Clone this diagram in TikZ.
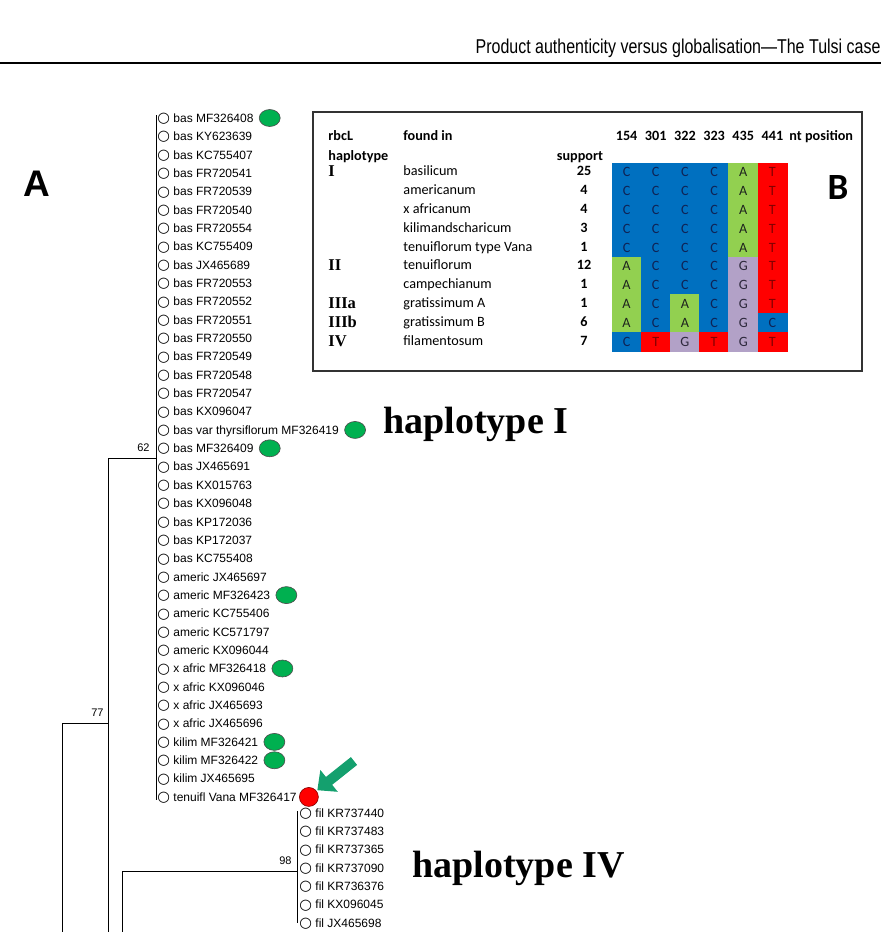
\documentclass[tikz,border=0pt]{standalone}
\usepackage{fontspec}
\setmainfont{Liberation Sans}
\newfontfamily\tabfont{Carlito}
\newfontfamily\romfont{Liberation Serif}
\newfontfamily\symfont{DejaVu Sans}
\newfontfamily\headfont[FakeStretch=0.8]{Liberation Sans}
\usetikzlibrary{positioning,shapes.geometric,arrows.meta}
\definecolor{nucC}{RGB}{0,112,192}
\definecolor{nucA}{RGB}{146,208,80}
\definecolor{nucT}{RGB}{255,0,0}
\definecolor{nucG}{RGB}{178,161,199}
\definecolor{txtC}{RGB}{15,35,85}
\definecolor{txtA}{RGB}{30,35,30}
\definecolor{txtT}{RGB}{130,0,0}
\definecolor{txtG}{RGB}{45,40,60}
\definecolor{dotgreen}{RGB}{0,176,80}
\definecolor{arrowgreen}{RGB}{20,160,110}
\newcommand{\mk}{\raisebox{-0.3pt}{\symfont\fontsize{14.5}{14.5}\selectfont ○}}

\begin{document}
\begin{tikzpicture}[x=1pt,y=-1pt,line width=0.9pt,
  leaf node/.style={anchor=west,inner sep=0pt,text height=8.6pt,text depth=0pt,font=\fontsize{12}{12}\selectfont},
  boot node/.style={inner sep=0pt,font=\fontsize{11}{11}\selectfont},
  green dot/.style={ellipse,draw=black!70,line width=0.6pt,fill=dotgreen,minimum width=21pt,minimum height=17pt,inner sep=0pt},
  red dot/.style={circle,draw=black!50!red,line width=0.6pt,fill=red,minimum size=19pt,inner sep=0pt},
  hap node/.style={anchor=base west,inner sep=0pt,font=\romfont\bfseries\fontsize{38}{38}\selectfont},
  tab node/.style={inner sep=0pt,text height=10pt,text depth=3pt,font=\tabfont\fontsize{14.2}{14.2}\selectfont},
  rom node/.style={anchor=west,inner sep=0pt,text height=10pt,text depth=3pt,font=\romfont\bfseries\fontsize{16.5}{16.5}\selectfont},
  cell node/.style={inner sep=0pt,text height=9.1pt,text depth=0pt,font=\tabfont\fontsize{14.2}{14.2}\selectfont},
  panel node/.style={inner sep=0pt,font=\bfseries\fontsize{37}{37}\selectfont},
  arrow line/.style={arrowgreen,line width=10pt,-{Triangle[length=15pt,width=27pt]},shorten >=1pt}]

  \useasboundingbox (0,0) rectangle (884,932);

  \node[anchor=base east,inner sep=0pt,font=\headfont\fontsize{20}{20}\selectfont] (head) at (881,53)
    {Product authenticity versus globalisation—The Tulsi case};
  \draw[line width=1.4pt] (0,63) -- (881,63);

  \node[panel node] (A) at (37,184) {A};
  \node[panel node,font=\tabfont\bfseries\fontsize{37}{37}\selectfont] (B) at (838,187) {B};

  \foreach \lab [count=\i] in {bas MF326408,bas KY623639,bas KC755407,bas FR720541,
      bas FR720539,bas FR720540,bas FR720554,bas KC755409,bas JX465689,bas FR720553,
      bas FR720552,bas FR720551,bas FR720550,bas FR720549,bas FR720548,bas FR720547,
      bas KX096047,bas var thyrsiflorum MF326419,bas MF326409,bas JX465691,bas KX015763,
      bas KX096048,bas KP172036,bas KP172037,bas KC755408,americ JX465697,americ MF326423,
      americ KC755406,americ KC571797,americ KX096044,x afric MF326418,x afric KX096046,
      x afric JX465693,x afric JX465696,kilim MF326421,kilim MF326422,kilim JX465695,
      tenuifl Vana MF326417}
    \node[leaf node] (\i) at (157,{118+(\i-1)*18.35}) {\mk\ \lab};
  \foreach \lab [count=\i from 39] in {KR737440,KR737483,KR737365,KR737090,KR736376,
      KX096045,JX465698}
    \node[leaf node] (\i) at (299,{813+(\i-39)*18.33}) {\mk\ fil \lab};

  \foreach \i in {1,18,19,27,31,35,36}
    \node[green dot,right=5pt of \i] (d\i) {};
  \node[red dot,right=2pt of 38] (d38) {};

  \coordinate (c1) at (156,115);
  \coordinate (c2) at (156,800);
  \coordinate (n62) at (156,458);
  \coordinate (a62) at (108,458);
  \coordinate (e62) at (108,932);
  \coordinate (n77) at (108,723);
  \coordinate (a77) at (62,723);
  \coordinate (e77) at (62,932);
  \coordinate (c3) at (297,811);
  \coordinate (c4) at (297,923);
  \coordinate (n98) at (297,871);
  \coordinate (a98) at (122,871);
  \coordinate (e98) at (122,932);

  \path (c1) edge (c2)
   (a62) edge (n62)
   (a62) edge (e62)
   (a77) edge (n77)
   (a77) edge (e77)
   (c3) edge (c4)
   (a98) edge (n98)
   (a98) edge (e98);

  \node[boot node,above left=6pt and 6pt of n62] (b62) {62};
  \node[boot node,above left=6pt and 4pt of n77] (b77) {77};
  \node[boot node,above left=6pt and 5pt of n98] (b98) {98};

  \coordinate (tail) at (354,761);
  \draw[arrow line] (tail) -- (d38);

  \node[hap node] (h1) at (383,433) {haplotype I};
  \node[hap node] (h4) at (412,877) {haplotype IV};

  \draw[line width=1.2pt,black!80] (313,112) rectangle (862,371);
  \node[tab node,anchor=west,font=\tabfont\bfseries\fontsize{14.2}{14.2}\selectfont] (t1) at (328,137) {rbcL};
  \node[tab node,anchor=west,font=\tabfont\bfseries\fontsize{14.2}{14.2}\selectfont] (t2) at (328,157) {haplotype};
  \node[tab node,anchor=west,font=\tabfont\bfseries\fontsize{14.2}{14.2}\selectfont] (t3) at (403,137) {found in};
  \node[tab node,font=\tabfont\bfseries\fontsize{14.2}{14.2}\selectfont] (t4) at (580,157) {support};
  \node[tab node,anchor=west,font=\tabfont\bfseries\fontsize{14.2}{14.2}\selectfont] (t5) at (789,137) {nt position};
  \foreach \pos [count=\c] in {154,301,322,323,435,441}
    \node[tab node,font=\tabfont\bfseries\fontsize{14.2}{14.2}\selectfont] (p\c) at ({626.6+(\c-1)*29.17},137) {\pos};

  \foreach \hap/\r in {I/1,II/6,IIIa/8,IIIb/9,IV/10}
    \node[rom node] (r\r) at (328,{173.4+(\r-1)*18.8}) {\hap};
  \foreach \sp/\n [count=\r] in {basilicum/25,americanum/4,x africanum/4,kilimandscharicum/3,
      tenuiflorum type Vana/1,tenuiflorum/12,campechianum/1,gratissimum A/1,
      gratissimum B/6,filamentosum/7}
  {
    \node[tab node,anchor=west] (s\r) at (403,{172.4+(\r-1)*18.8}) {\sp};
    \node[tab node,font=\tabfont\bfseries\fontsize{14.2}{14.2}\selectfont] (n\r) at (584,{172.4+(\r-1)*18.8}) {\n};
  }

  \foreach \seq [count=\r] in {{C,C,C,C,A,T},{C,C,C,C,A,T},{C,C,C,C,A,T},{C,C,C,C,A,T},
      {C,C,C,C,A,T},{A,C,C,C,G,T},{A,C,C,C,G,T},{A,C,A,C,G,T},{A,C,A,C,G,C},{C,T,G,T,G,T}}
    \foreach \b [count=\c] in \seq
    {
      \path[fill=nuc\b,draw=nuc\b,line width=0.4pt] ({612+(\c-1)*29.17},{163+(\r-1)*18.8}) rectangle ++(29.17,18.8);
      \node[cell node,text=txt\b] (x\r-\c) at ({626.6+(\c-1)*29.17},{172.4+(\r-1)*18.8}) {\b};
    }
\end{tikzpicture}
\end{document}
